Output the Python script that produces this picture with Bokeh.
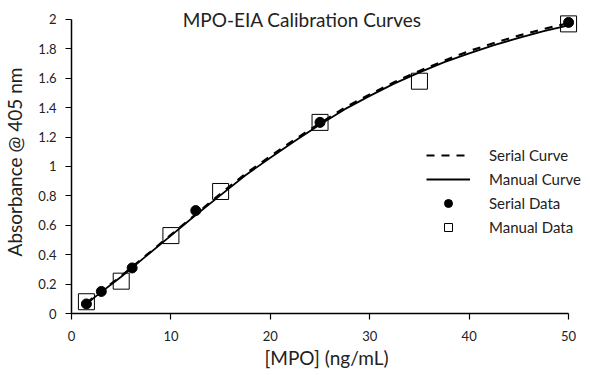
from bokeh.plotting import figure
from bokeh.models import Range1d, FixedTicker, Legend, LegendItem, Label
from bokeh.embed import file_html
from bokeh.resources import INLINE

# ---- data ----
serial_x = [1.5, 3, 6.1, 12.5, 25, 50]
serial_y = [0.065, 0.15, 0.31, 0.70, 1.30, 1.98]
manual_x = [1.5, 5, 10, 15, 25, 35, 50]
manual_y = [0.08, 0.22, 0.53, 0.83, 1.30, 1.58, 1.97]

curve_x = [1.5, 2.5, 5, 7.5, 10, 12.5, 15, 17.5, 20, 22.5, 25, 27.5, 30, 32.5, 35, 37.5, 40, 42.5, 45, 47.5, 50]
manual_curve_y = [0.065, 0.12, 0.25, 0.39, 0.53, 0.67, 0.805, 0.94, 1.06, 1.175, 1.285, 1.39, 1.48, 1.565, 1.64, 1.71, 1.77, 1.825, 1.875, 1.92, 1.96]
serial_curve_y = [0.07, 0.125, 0.255, 0.395, 0.535, 0.675, 0.815, 0.95, 1.07, 1.185, 1.295, 1.40, 1.49, 1.575, 1.65, 1.72, 1.785, 1.84, 1.89, 1.935, 1.975]

x_ticks = [0, 10, 20, 30, 40, 50]
y_ticks = [0, 0.2, 0.4, 0.6, 0.8, 1.0, 1.2, 1.4, 1.6, 1.8, 2.0]
y_tick_labels = ["0", "0.2", "0.4", "0.6", "0.8", "1", "1.2", "1.4", "1.6", "1.8", "2"]

FONT = "Lato"

p = figure(width=588, height=373, output_backend="svg", toolbar_location=None,
           x_range=Range1d(0, 51.3), y_range=Range1d(0, 2.061),
           min_border_left=70, min_border_right=7, min_border_top=10, min_border_bottom=60)
p.outline_line_color = None
p.xgrid.visible = False
p.ygrid.visible = False
p.background_fill_color = "white"

r_serial_curve = p.line(curve_x, serial_curve_y, line_color="black", line_width=2.2, line_dash="8 7")
r_manual_curve = p.line(curve_x, manual_curve_y, line_color="black", line_width=1.8)
r_serial = p.scatter(serial_x, serial_y, marker="circle", size=10, fill_color="black", line_color="black")
r_manual = p.scatter(manual_x, manual_y, marker="square", size=16, fill_color=None, line_color="black", line_width=1)

for ax in (p.xaxis[0], p.yaxis[0]):
    ax.axis_line_color = "black"
    ax.axis_line_width = 1.5
    ax.major_tick_line_color = "black"
    ax.major_tick_line_width = 1.2
    ax.major_tick_out = 6
    ax.major_tick_in = 0
    ax.minor_tick_line_color = None
    ax.major_label_text_font = FONT
    ax.major_label_text_font_size = "13px"
    ax.major_label_text_color = "#222222"
    ax.axis_label_text_font = FONT
    ax.axis_label_text_font_size = "19px"
    ax.axis_label_text_font_style = "normal"
    ax.axis_label_text_color = "#222222"

p.xaxis.ticker = FixedTicker(ticks=x_ticks)
p.xaxis.bounds = (0, 50)
p.xaxis.axis_label = "[MPO] (ng/mL)"
p.xaxis.major_label_standoff = 11
p.xaxis.axis_label_standoff = 2

p.yaxis.ticker = FixedTicker(ticks=y_ticks)
p.yaxis.bounds = (0, 2)
p.yaxis.major_label_overrides = {t: l for t, l in zip(y_ticks, y_tick_labels)}
p.yaxis.axis_label = "Absorbance @ 405 nm"
p.yaxis.major_label_standoff = 9
p.yaxis.axis_label_standoff = 9

title = Label(x=23.2, y=2.0, text="MPO-EIA Calibration Curves", text_font=FONT,
              text_font_size="19px", text_align="center", text_baseline="middle",
              text_color="#222222")
p.add_layout(title)

legend = Legend(items=[
    LegendItem(label="Serial Curve", renderers=[r_serial_curve]),
    LegendItem(label="Manual Curve", renderers=[r_manual_curve]),
    LegendItem(label="Serial Data", renderers=[r_serial]),
    LegendItem(label="Manual Data", renderers=[r_manual]),
], location=(355, 76))
legend.border_line_color = None
legend.background_fill_alpha = 0
legend.padding = 0
legend.margin = 0
legend.spacing = 4
legend.glyph_width = 44
legend.glyph_height = 20
legend.label_height = 20
legend.label_standoff = 19
legend.label_text_font = FONT
legend.label_text_font_size = "15px"
legend.label_text_color = "#222222"
p.add_layout(legend)

open("out.html", "w").write(file_html(p, INLINE))
